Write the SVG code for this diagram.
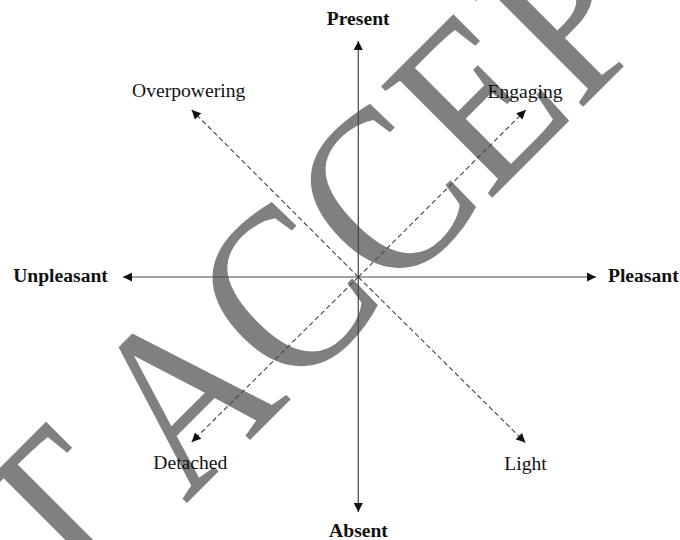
<svg xmlns="http://www.w3.org/2000/svg" width="680" height="540" viewBox="0 0 680 540">
  <style>
    .bold { font-family: "Liberation Serif", "Times New Roman", serif; font-weight: bold; font-size: 19.6px; fill: #111; text-anchor: middle; }
    .reg { font-family: "Liberation Serif", "Times New Roman", serif; font-size: 19.6px; fill: #111; text-anchor: middle; }
    .axis { stroke: #444; stroke-width: 1.2; fill: none; }
    .diag { stroke: #444; stroke-width: 1.1; fill: none; stroke-dasharray: 5 3; }
    .wm { font-family: "Liberation Serif", "Times New Roman", serif; font-size: 240px; fill: #808080; }
  </style>
  <defs>
    <marker id="arrow" viewBox="0 0 10 10" refX="10" refY="5" markerWidth="10" markerHeight="9" markerUnits="userSpaceOnUse" orient="auto">
      <path d="M0,0 L10,5 L0,10 Z" fill="#111"/>
    </marker>
  </defs>
  <rect width="680" height="540" fill="#fff"/>
  <g id="watermark">
    <text class="wm" transform="translate(196.3,493.7) rotate(-45) scale(0.867,1)" x="-206.6" y="0">T ACCEP</text>
  </g>
  <g id="connectors">
    <line class="axis" x1="358.3" y1="277" x2="358.3" y2="41" marker-end="url(#arrow)"/>
    <line class="axis" x1="358.3" y1="277" x2="358.3" y2="512" marker-end="url(#arrow)"/>
    <line class="axis" x1="358.3" y1="277" x2="123" y2="277" marker-end="url(#arrow)"/>
    <line class="axis" x1="358.3" y1="277" x2="596" y2="277" marker-end="url(#arrow)"/>
    <line class="diag" x1="358.3" y1="277" x2="191.7" y2="110" marker-end="url(#arrow)"/>
    <line class="diag" x1="358.3" y1="277" x2="525.7" y2="110" marker-end="url(#arrow)"/>
    <line class="diag" x1="358.3" y1="277" x2="191.7" y2="442" marker-end="url(#arrow)"/>
    <line class="diag" x1="358.3" y1="277" x2="525.3" y2="442.5" marker-end="url(#arrow)"/>
  </g>
  <g id="present"><text class="bold" x="358.2" y="25">Present</text></g>
  <g id="absent"><text class="bold" x="358.5" y="537">Absent</text></g>
  <g id="unpleasant"><text class="bold" x="60.5" y="282.3">Unpleasant</text></g>
  <g id="pleasant"><text class="bold" x="643.3" y="282.3">Pleasant</text></g>
  <g id="overpowering"><text class="reg" x="188.7" y="96.7">Overpowering</text></g>
  <g id="engaging"><text class="reg" x="525" y="97.5">Engaging</text></g>
  <g id="detached"><text class="reg" x="190.3" y="469.3">Detached</text></g>
  <g id="light"><text class="reg" x="525.5" y="470">Light</text></g>
</svg>
